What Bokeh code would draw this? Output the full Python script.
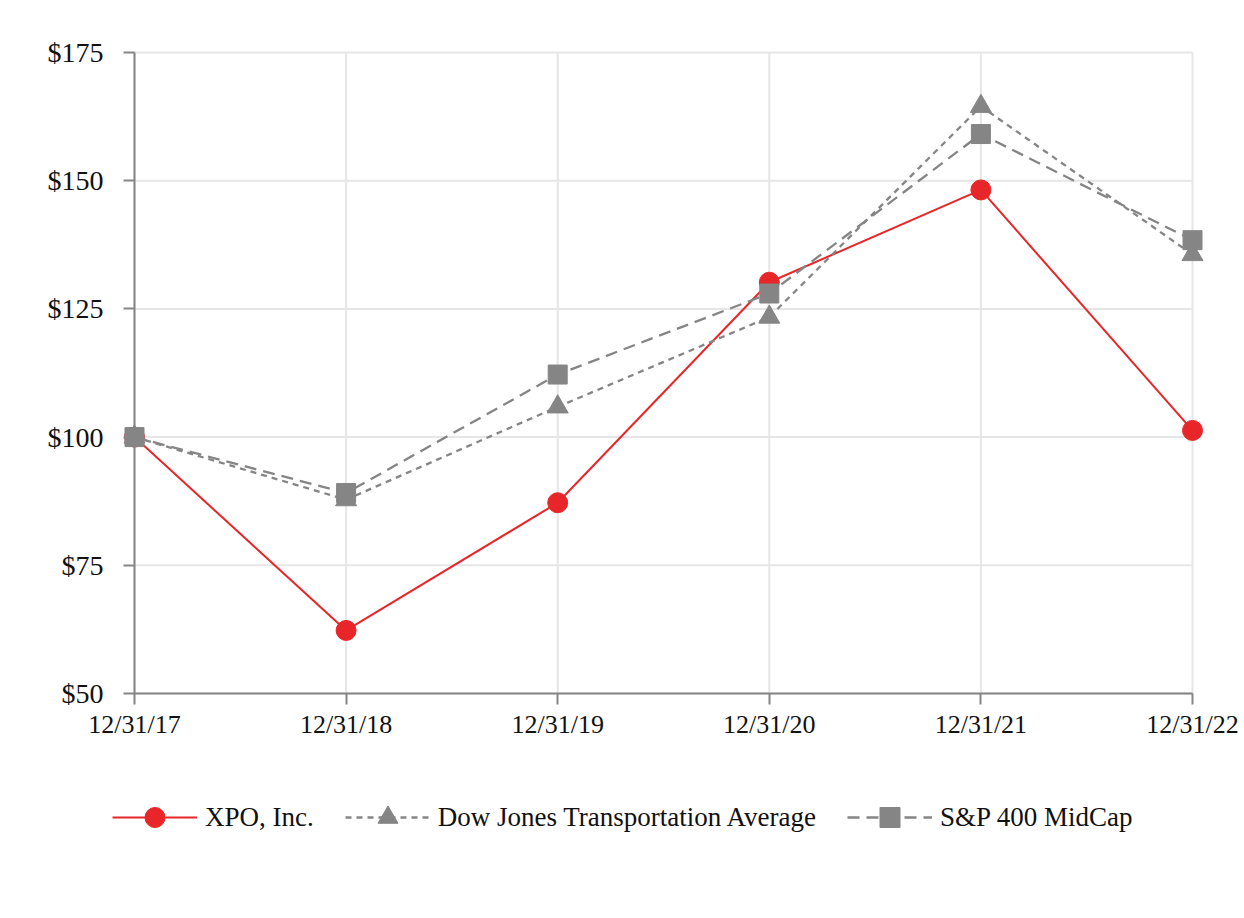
from bokeh.plotting import figure
from bokeh.models import FixedTicker, Legend, LegendItem, Range1d
from bokeh.embed import file_html
from bokeh.resources import INLINE

dates = ["12/31/17", "12/31/18", "12/31/19", "12/31/20", "12/31/21", "12/31/22"]
xpo = [100, 62.3, 87.2, 130.2, 148.2, 101.3]
djta = [100, 87.8, 105.9, 123.4, 164.5, 135.6]
sp400 = [100, 89.1, 112.2, 128.0, 159.1, 138.4]
y_ticks = [50, 75, 100, 125, 150, 175]

xs = list(range(len(dates)))
last = len(dates) - 1
y_lo, y_hi = y_ticks[0], y_ticks[-1]
FONT = "Liberation Serif"
GRAY = "#858585"
GRID = "#e6e6e6"
RED = "#e8262a"

# layout: the frame covers almost the whole canvas so that axis labels and legend
# (drawn inside the frame) are not clipped; data area maps to x 134..1192, y 52..693
PX_X = (1192 - 134) / last
PX_Y = (693 - 52) / (y_hi - y_lo)
LEFT, TOP, RIGHT, BOTTOM = 16, 20, 1240, 880
x_range = Range1d(-(134 - LEFT) / PX_X, last + (RIGHT - 1192) / PX_X)
y_range = Range1d(y_lo - (BOTTOM - 693) / PX_Y, y_hi + (52 - TOP) / PX_Y)

p = figure(frame_width=RIGHT - LEFT, frame_height=BOTTOM - TOP,
           min_border_left=LEFT, min_border_top=TOP, min_border_right=0, min_border_bottom=0,
           output_backend="svg", toolbar_location=None,
           x_range=x_range, y_range=y_range)
p.outline_line_color = None
p.background_fill_color = "white"
p.grid.visible = False

# grid lines limited to the data area
p.segment(x0=xs, y0=[y_lo] * len(xs), x1=xs, y1=[y_hi] * len(xs),
          line_color=GRID, line_width=2, level="underlay")
p.segment(x0=[0] * len(y_ticks), y0=y_ticks, x1=[last] * len(y_ticks), y1=y_ticks,
          line_color=GRID, line_width=2, level="underlay")

for ax in (p.xaxis[0], p.yaxis[0]):
    ax.axis_line_color = GRAY
    ax.axis_line_width = 2
    ax.major_tick_line_color = GRAY
    ax.major_tick_line_width = 2
    ax.major_tick_out = 11
    ax.major_tick_in = 0
    ax.minor_tick_line_color = None
    ax.major_label_text_font = FONT
    ax.major_label_text_color = "#111111"

p.xaxis.major_label_text_font_size = "26px"
p.xaxis.ticker = FixedTicker(ticks=xs)
p.xaxis.major_label_overrides = {i: d for i, d in enumerate(dates)}
p.xaxis.major_label_standoff = 5
p.xaxis.fixed_location = y_lo
p.xaxis.bounds = (0, last)
p.yaxis.major_label_text_font_size = "28px"
p.yaxis.ticker = FixedTicker(ticks=y_ticks)
p.yaxis.major_label_overrides = {v: "$" + str(v) for v in y_ticks}
p.yaxis.major_label_standoff = 20
p.yaxis.fixed_location = 0
p.yaxis.bounds = (y_lo, y_hi)

l1 = p.line(xs, xpo, line_color=RED, line_width=2)
m1 = p.scatter(xs, xpo, marker="circle", size=20, fill_color=RED, line_color=RED)
l2 = p.line(xs, djta, line_color=GRAY, line_width=2.3, line_dash="6 5")
m2 = p.scatter(xs, djta, marker="triangle", size=21, fill_color=GRAY, line_color=GRAY)
l3 = p.line(xs, sp400, line_color=GRAY, line_width=2.3, line_dash="12 7")
m3 = p.scatter(xs, sp400, marker="square", size=19, fill_color=GRAY, line_color=GRAY)

legend = Legend(items=[
    LegendItem(label="XPO, Inc.", renderers=[l1, m1]),
    LegendItem(label="Dow Jones Transportation Average", renderers=[l2, m2]),
    LegendItem(label="S&P 400 MidCap", renderers=[l3, m3]),
], orientation="horizontal", location=(112 - LEFT, BOTTOM - 50 - 792))
legend.glyph_width = 85
legend.glyph_height = 50
legend.label_standoff = 8
legend.spacing = 31
legend.padding = 0
legend.margin = 0
legend.border_line_color = None
legend.background_fill_alpha = 0
legend.label_text_font = FONT
legend.label_text_font_size = "27px"
legend.label_text_color = "#111111"
p.add_layout(legend, "center")

open("out.html", "w").write(file_html(p, INLINE))
